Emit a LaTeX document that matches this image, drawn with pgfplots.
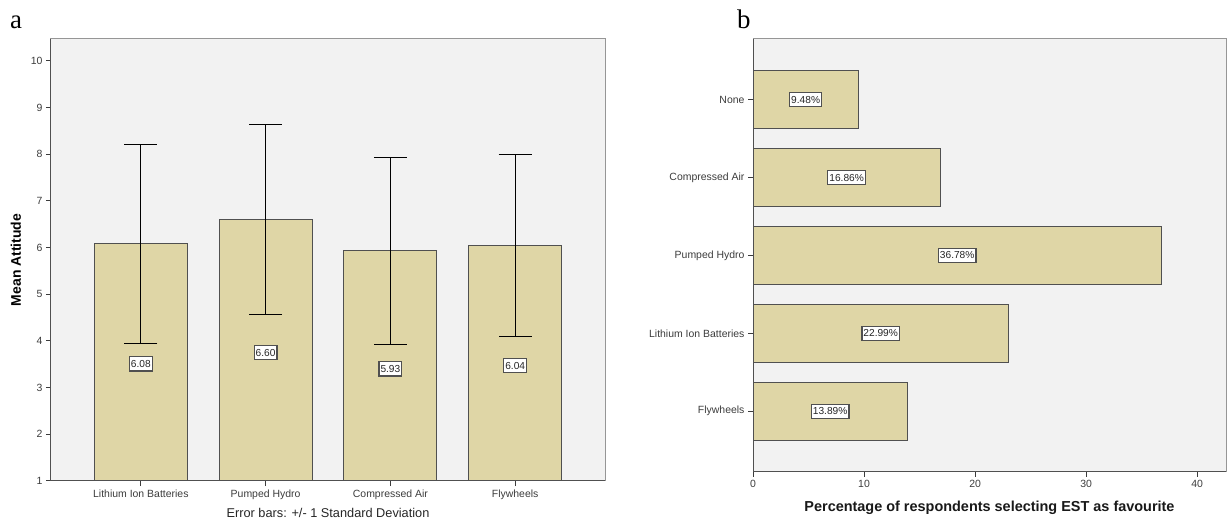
\documentclass[border=0pt]{standalone}
\usepackage{fontspec}
\setmainfont{Liberation Sans}
\newfontfamily\timesf{Liberation Serif}
\usepackage{pgfplots}
\pgfplotsset{compat=1.18}
\usepackage{pgfplotstable}
\definecolor{bgc}{RGB}{242,242,242}
\definecolor{barc}{RGB}{223,214,166}
\definecolor{edgec}{RGB}{80,80,80}
\definecolor{framec}{RGB}{150,150,150}
\definecolor{tickc}{RGB}{60,60,60}

\pgfplotstableread{
x y err mid lab
0 6.08 2.13 3.51 6.08
1 6.60 2.04 3.75 6.60
2 5.93 2.00 3.40 5.93
3 6.04 1.95 3.47 6.04
}\attitude

\pgfplotstableread{
y v mid lab
0 13.89 6.95 13.89
1 22.99 11.50 22.99
2 36.78 18.39 36.78
3 16.86 8.43 16.86
4 9.48 4.74 9.48
}\favourite

\tikzset{
  vbox/.style={fill=white, draw=edgec, line width=1.2bp, inner xsep=1.5bp, inner ysep=3.5bp,
    font=\fontsize{10.2}{12}\selectfont, text=black!85, anchor=center},
}
\pgfplotsset{
  spss/.style={
    scale only axis,
    anchor=south west,
    axis background/.style={fill=bgc},
    axis line style={framec, line width=1bp},
    tick align=outside,
    tick pos=left,
    major tick length=5bp,
    tick style={tickc, line width=1bp},
    tick label style={font=\fontsize{10.5}{12}\selectfont, text=tickc},
    /pgf/number format/assume math mode=true,
    after end axis/.code={
      \draw[edgec, line width=1bp] (rel axis cs:0,1) -- (rel axis cs:0,0) -- (rel axis cs:1,0);
    },
  },
}

\begin{document}
\begin{tikzpicture}
\node[anchor=base west, font=\timesf\fontsize{27}{30}\selectfont, inner sep=0] at (10bp,492bp) {a};
\node[anchor=base west, font=\timesf\fontsize{27}{30}\selectfont, inner sep=0] at (737bp,492bp) {b};

\begin{axis}[spss,
  at={(51bp,40bp)}, width=554bp, height=442bp,
  xmin=-0.72, xmax=3.72, ymin=1, ymax=10.47,
  xtick={0,1,2,3},
  xticklabels={Lithium Ion Batteries, Pumped Hydro, Compressed Air, Flywheels},
  ytick={1,2,...,10},
  xlabel={Error bars: +/- 1 Standard Deviation},
  xlabel style={font=\fontsize{12.8}{14}\selectfont, text=black!85, at={(axis description cs:0.5,0)}, anchor=center, yshift=-32bp},
  ylabel={Mean Attitude},
  ylabel style={font=\bfseries\fontsize{14}{16}\selectfont, at={(axis description cs:0,0.5)}, anchor=center, yshift=35bp},
]
\addplot[ybar, bar width=93bp, fill=barc, draw=edgec, line width=1bp,
  error bars/.cd, y dir=both, y explicit,
  error bar style={black, line width=1bp},
  error mark options={rotate=90, black, line width=1bp, mark size=16.5bp}]
  table[x=x, y=y, y error=err] {\attitude};
\addplot[draw=none, mark=none, nodes near coords, point meta=explicit symbolic,
  every node near coord/.style={vbox}]
  table[x=x, y=mid, meta=lab] {\attitude};
\end{axis}

\begin{axis}[spss,
  at={(753bp,49bp)}, width=473bp, height=433bp,
  xmin=0, xmax=42.6, ymin=-0.78, ymax=4.78,
  xtick={0,10,...,40},
  ytick={0,1,2,3,4},
  yticklabels={Flywheels, Lithium Ion Batteries, Pumped Hydro, Compressed Air, None},
  xlabel={Percentage of respondents selecting EST as favourite},
  xlabel style={font=\bfseries\fontsize{14.5}{16}\selectfont, text=black!90, at={(axis description cs:0.5,0)}, anchor=center, yshift=-36bp},
]
\addplot[xbar, bar width=58bp, fill=barc, draw=edgec, line width=1bp]
  table[x=v, y=y] {\favourite};
\addplot[draw=none, mark=none, nodes near coords={\pgfplotspointmeta\%}, point meta=explicit symbolic,
  every node near coord/.style={vbox}]
  table[x=mid, y=y, meta=lab] {\favourite};
\end{axis}
\pgfresetboundingbox
\path[use as bounding box] (0bp,0bp) rectangle (1228bp,521bp);
\end{tikzpicture}
\end{document}
